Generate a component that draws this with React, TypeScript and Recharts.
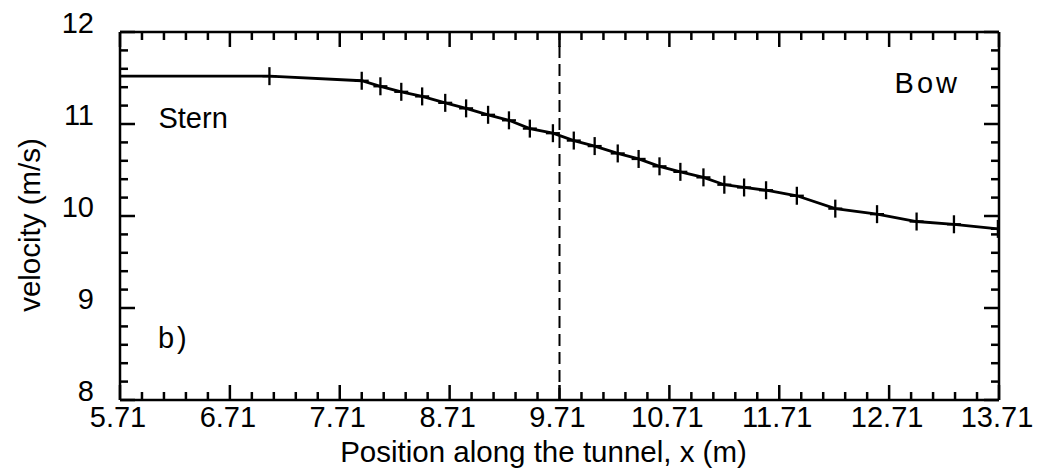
import { LineChart, Line, XAxis, YAxis, ReferenceLine, ReferenceDot } from 'recharts';

// Position along the tunnel (m); the first entry is the inlet boundary, drawn without a marker
const positions = [
  5.71, 7.07, 7.91, 8.08, 8.27, 8.46, 8.67, 8.86, 9.06, 9.25, 9.44, 9.65, 9.84, 10.03,
  10.24, 10.43, 10.62, 10.81, 11.02, 11.21, 11.39, 11.59, 11.87, 12.22, 12.6, 12.96, 13.3, 13.7,
];

// Velocity (m/s) at each position
const velocities = [
  11.52, 11.52, 11.47, 11.41, 11.35, 11.3, 11.23, 11.17, 11.1, 11.04, 10.95, 10.9, 10.82, 10.76,
  10.68, 10.62, 10.54, 10.48, 10.42, 10.34, 10.31, 10.28, 10.22, 10.08, 10.02, 9.94, 9.91, 9.86,
];

const xTickLabels = ['5.71', '6.71', '7.71', '8.71', '9.71', '10.71', '11.71', '12.71', '13.71'];
const yTickLabels = ['8', '9', '10', '11', '12'];

const midship = 9.71;

const notes = [
  { text: 'Stern', x: 6.06, y: 10.96, spacing: 0 },
  { text: 'Bow', x: 12.76, y: 11.34, spacing: 3 },
  { text: 'b)', x: 6.055, y: 8.57, spacing: 3 },
];

const data = positions.map((x, i) => ({ x, v: velocities[i] }));

const FONT = '"Liberation Sans", Arial, Helvetica, sans-serif';
const MAJOR = 15;
const MINOR = 8;

// five sub-divisions between labelled ticks on both axes
const xMajor = xTickLabels.map(Number);
const xTicks: number[] = [];
xMajor.forEach((m, i) => {
  xTicks.push(m);
  if (i < xMajor.length - 1) for (let k = 1; k < 5; k++) xTicks.push(+(m + k * 0.2).toFixed(2));
});
const yMajor = yTickLabels.map(Number);
const yTicks: number[] = [];
yMajor.forEach((m, i) => {
  yTicks.push(m);
  if (i < yMajor.length - 1) for (let k = 1; k < 5; k++) yTicks.push(+(m + k * 0.2).toFixed(2));
});

const labelFor = (labels: string[], v: number) => labels.find((l) => Math.abs(Number(l) - v) < 1e-6);

// ticks point into the plot on all four sides
function BottomTick({ x, y, payload }: any) {
  const lbl = labelFor(xTickLabels, payload.value);
  return (
    <g>
      <line x1={x} x2={x} y1={y} y2={y - (lbl ? MAJOR : MINOR)} stroke="#000" strokeWidth={2.5} />
      {lbl && (
        <text x={x - 2} y={y + 27} textAnchor="middle" fontFamily={FONT} fontSize={29} fill="#000">
          {lbl}
        </text>
      )}
    </g>
  );
}

function TopTick({ x, y, payload }: any) {
  const major = !!labelFor(xTickLabels, payload.value);
  return <line x1={x} x2={x} y1={y} y2={y + (major ? MAJOR : MINOR)} stroke="#000" strokeWidth={2.5} />;
}

function LeftTick({ x, y, payload }: any) {
  const lbl = labelFor(yTickLabels, payload.value);
  return (
    <g>
      <line x1={x} x2={x + (lbl ? MAJOR : MINOR)} y1={y} y2={y} stroke="#000" strokeWidth={2.5} />
      {lbl && (
        <text x={x - 26} y={y + 1} textAnchor="end" fontFamily={FONT} fontSize={29} fill="#000">
          {lbl}
        </text>
      )}
    </g>
  );
}

function RightTick({ x, y, payload }: any) {
  const major = !!labelFor(yTickLabels, payload.value);
  return <line x1={x} x2={x - (major ? MAJOR : MINOR)} y1={y} y2={y} stroke="#000" strokeWidth={2.5} />;
}

function Cross(props: any) {
  const { cx, cy, index } = props;
  if (index === 0 || cx == null) return <g key={`m${index}`} />;
  return (
    <g key={`m${index}`}>
      <line x1={cx} x2={cx} y1={cy - 9} y2={cy + 9} stroke="#000" strokeWidth={2.3} />
      <line x1={cx - 7} x2={cx + 7} y1={cy} y2={cy} stroke="#000" strokeWidth={2.3} />
    </g>
  );
}

const frame = { stroke: '#000', strokeWidth: 2.5 };

export default function App() {
  return (
    <LineChart width={1027} height={465} data={data} margin={{ top: 0, right: 0, bottom: 0, left: 0 }}>
      <XAxis
        dataKey="x"
        type="number"
        domain={[5.71, 13.71]}
        allowDataOverflow
        ticks={xTicks}
        interval={0}
        tickSize={0}
        tickMargin={0}
        tickLine={false}
        tick={<BottomTick />}
        height={73}
        axisLine={frame}
        label={{
          content: ({ viewBox }: any) => (
            <text
              x={viewBox.x + viewBox.width / 2 - 16}
              y={viewBox.y + 62}
              textAnchor="middle"
              fontFamily={FONT}
              fontSize={29.5}
              fill="#000"
            >
              Position along the tunnel, x (m)
            </text>
          ),
        }}
      />
      <XAxis
        xAxisId="top"
        dataKey="x"
        orientation="top"
        type="number"
        domain={[5.71, 13.71]}
        allowDataOverflow
        ticks={xTicks}
        interval={0}
        tickSize={0}
        tickMargin={0}
        tickLine={false}
        tick={<TopTick />}
        height={24}
        axisLine={frame}
      />
      <YAxis
        dataKey="v"
        type="number"
        domain={[8, 12]}
        allowDataOverflow
        ticks={yTicks}
        interval={0}
        tickSize={0}
        tickMargin={0}
        tickLine={false}
        tick={<LeftTick />}
        width={112}
        axisLine={frame}
        label={{
          content: ({ viewBox }: any) => {
            const cx = viewBox.x + 32;
            const cy = viewBox.y + viewBox.height / 2 + 9;
            return (
              <text
                x={cx}
                y={cy}
                transform={`rotate(-90 ${cx} ${cy})`}
                textAnchor="middle"
                fontFamily={FONT}
                fontSize={29.5}
                fill="#000"
              >
                velocity (m/s)
              </text>
            );
          },
        }}
      />
      <YAxis
        yAxisId="right"
        dataKey="v"
        orientation="right"
        type="number"
        domain={[8, 12]}
        allowDataOverflow
        ticks={yTicks}
        interval={0}
        tickSize={0}
        tickMargin={0}
        tickLine={false}
        tick={<RightTick />}
        width={36}
        axisLine={frame}
      />
      <ReferenceLine x={midship} stroke="#000" strokeWidth={2} strokeDasharray="12 6" />
      {notes.map((n) => (
        <ReferenceDot
          key={n.text}
          x={n.x}
          y={n.y}
          r={0}
          shape={(p: any) => (
            <text
              x={p.cx}
              y={p.cy}
              fontFamily={FONT}
              fontSize={29}
              letterSpacing={n.spacing}
              fill="#000"
            >
              {n.text}
            </text>
          )}
        />
      ))}
      <Line
        dataKey="v"
        type="linear"
        stroke="#000"
        strokeWidth={2.8}
        dot={Cross}
        activeDot={false}
        isAnimationActive={false}
      />
    </LineChart>
  );
}
